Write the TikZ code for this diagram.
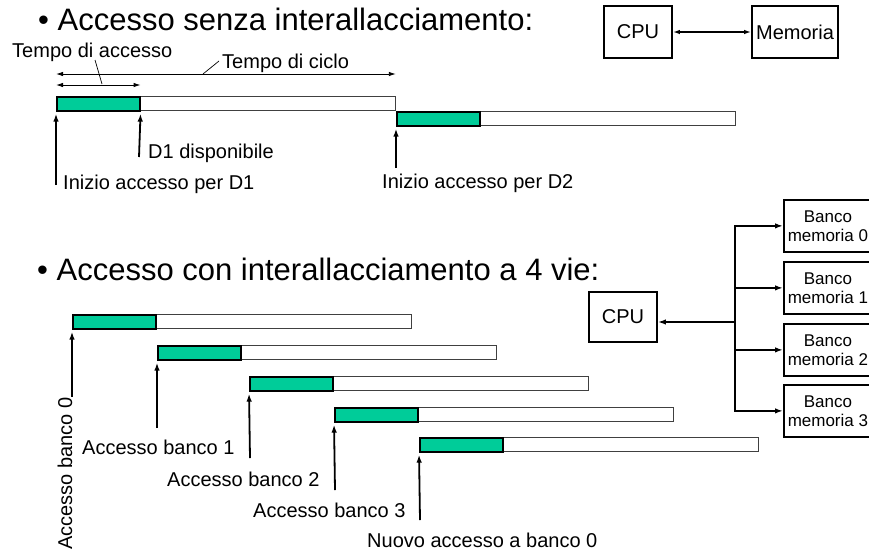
\documentclass[tikz,border=0pt]{standalone}
\usepackage{fontspec}
\setmainfont{Liberation Sans}
\usetikzlibrary{arrows.meta}
\definecolor{accessgreen}{RGB}{0,204,153}

\begin{document}
\begin{tikzpicture}[x=1pt,y=-1pt,
heading/.style={
	% The bullet lines:
	anchor=base west,inner sep=0pt,
	font=\fontsize{31}{36}\selectfont},
note/.style={
	% The small labels:
	anchor=base west,inner sep=0pt,
	font=\fontsize{20}{24}\selectfont},
unit/.style={
	% The shape:
	rectangle,minimum height=52pt,
	% The border:
	draw,line width=1.8pt,inner sep=0pt,
	% Font
	font=\fontsize{20}{24}\selectfont},
bank/.style={unit,align=center,minimum width=88pt,anchor=north west,
	font=\fontsize{17}{19}\selectfont},
slot/.style={
	% whole cycle, white
	rectangle,anchor=north west,inner sep=0pt,
	minimum width=339pt,minimum height=14pt,
	draw=black!75,line width=0.8pt,fill=white},
fetch/.style={
	% access part, green
	rectangle,anchor=north west,inner sep=0pt,
	minimum width=83pt,minimum height=14pt,
	draw=black,line width=1.6pt,fill=accessgreen},
kick/.style={-{Latex[length=8pt,width=5.5pt]},line width=1.8pt,shorten >=2pt},
link/.style={-{Latex[length=8pt,width=5.5pt]},line width=1.8pt},
spanarrow/.style={{Latex[length=7pt,width=4.5pt]}-{Latex[length=7pt,width=4.5pt]},line width=0.9pt},
leader/.style={line width=0.7pt}]

\useasboundingbox (0,0) rectangle (869,552);

%Senza interallacciamento
\node (h1) [heading] at (38,30) {• Accesso senza interallacciamento:};
\node (cpu) [unit,minimum width=68pt] at (638,32) {CPU};
\node (mem) [unit,minimum width=86pt] at (795,32) {Memoria};
\draw[spanarrow,line width=1.4pt] (cpu) -- (mem);

\node (s1) [slot] at (56,96) {};
\node (g1) [fetch] at (56,96) {};
\node (s2) [slot] at (396,111) {};
\node (g2) [fetch] at (396,111) {};

\node (ta) [note] at (12,57) {Tempo di accesso};
\node (tc) [note] at (222,68) {Tempo di ciclo};
\draw[spanarrow] ([yshift=22pt]g1.north west) -- ([yshift=22pt]s1.north east);
\draw[spanarrow] ([yshift=11pt]g1.north west) -- ([yshift=11pt]g1.north east);
\coordinate (la) at (95,60);
\coordinate (lc) at (219,61);
\draw[leader] (la) -- (102,84);
\draw[leader] (lc) -- (203,74);

\node (d1) [note] at (148,158) {D1 disponibile};
\node (i1) [note] at (63,189) {Inizio accesso per D1};
\node (i2) [note] at (382,188) {Inizio accesso per D2};
\coordinate (a1) at (56,185);
\coordinate (a2) at (139,157);
\coordinate (a3) at (396,168);
\draw[kick] (a1) -- (g1.south west);
\draw[kick] (a2) -- (g1.south east);
\draw[kick] (a3) -- (g2.south west);

%Con interallacciamento
\node (h2) [heading] at (37,280) {• Accesso con interallacciamento a 4 vie:};
\node (cpu2) [unit,minimum width=68pt,minimum height=50pt] at (623,317) {CPU};
\node (b0) [bank] at (783,199) {Banco\\memoria 0};
\node (b1) [bank] at (783,261) {Banco\\memoria 1};
\node (b2) [bank] at (783,323) {Banco\\memoria 2};
\node (b3) [bank] at (783,384) {Banco\\memoria 3};
\coordinate (fork) at (735,322);
\draw[link] (fork) -- (fork -| cpu2.east);
\draw[link] (fork) |- (b0.west);
\draw[link] (fork) |- (b1.west);
\draw[link] (fork) |- (b2.west);
\draw[link] (fork) |- (b3.west);

\node (s3) [slot] at (72,314) {};
\node (g3) [fetch] at (72,314) {};
\node (s4) [slot] at (157,345) {};
\node (g4) [fetch] at (157,345) {};
\node (s5) [slot] at (249,376) {};
\node (g5) [fetch] at (249,376) {};
\node (s6) [slot] at (334,407) {};
\node (g6) [fetch] at (334,407) {};
\node (s7) [slot] at (419,437) {};
\node (g7) [fetch] at (419,437) {};

\node (n0) [note,anchor=base east,rotate=90] at (72,397) {Accesso banco 0};
\node (n1) [note] at (82,454) {Accesso banco 1};
\node (n2) [note] at (167,486) {Accesso banco 2};
\node (n3) [note] at (253,517) {Accesso banco 3};
\node (n4) [note] at (367,547) {Nuovo accesso a banco 0};
\coordinate (c0) at (72,397);
\coordinate (c1) at (157,428);
\coordinate (c2) at (250,458);
\coordinate (c3) at (335,490);
\coordinate (c4) at (420,520);
\draw[kick] (c0) -- (g3.south west);
\draw[kick] (c1) -- (g4.south west);
\draw[kick] (c2) -- (g5.south west);
\draw[kick] (c3) -- (g6.south west);
\draw[kick] (c4) -- (g7.south west);

\end{tikzpicture}
\end{document}
